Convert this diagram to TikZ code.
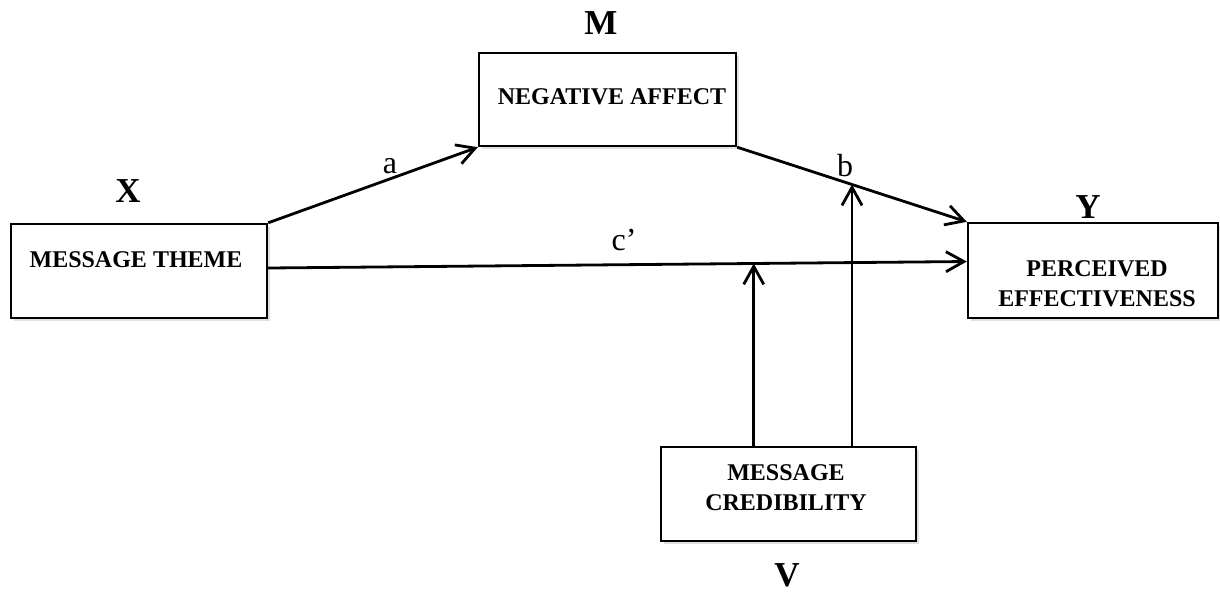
\documentclass[tikz,border=0pt]{standalone}
\usepackage{fontspec}
\setmainfont{Liberation Serif}
\usetikzlibrary{arrows.meta,calc,shadows}
\begin{document}
\begin{tikzpicture}[x=0.5pt,y=-0.5pt,
  box/.style={draw=black,line width=1.2pt,fill=white,inner sep=0pt,
    drop shadow={shadow xshift=1.5pt,shadow yshift=-1.5pt,fill=black,opacity=0.12}},
  boxtext/.style={font=\fontsize{12}{15}\selectfont\bfseries,align=center,inner sep=0pt},
  varlabel/.style={font=\fontsize{17.5}{20}\selectfont\bfseries,inner sep=0pt},
  pathlabel/.style={font=\fontsize{16}{18}\selectfont,inner sep=0pt},
  arr/.style={line width=1.4pt,-{Straight Barb[length=9pt,width=10pt,line width=1.4pt]}}
]
\useasboundingbox (0,0) rectangle (1220,591);
% boxes
\node[box,minimum width=128.5pt,minimum height=46.5pt] (na) at (607.5,99.5) {};
\node[box,minimum width=128pt,minimum height=47pt] (mt) at (139,271) {};
\node[box,minimum width=125pt,minimum height=47.5pt] (pe) at (1093,270.5) {};
\node[box,minimum width=127.5pt,minimum height=47pt] (mc) at (788.5,494) {};
% box texts
\node[boxtext] (nat) at (612,97) {NEGATIVE AFFECT};
\node[boxtext] (mtt) at (136,260) {MESSAGE THEME};
\node[boxtext] (pet) at (1097,284) {PERCEIVED\\EFFECTIVENESS};
\node[boxtext] (mct) at (786,488) {MESSAGE\\CREDIBILITY};
% variable labels
\node[varlabel] (lm) at (601,23) {M};
\node[varlabel] (lx) at (128,191) {X};
\node[varlabel] (ly) at (1088,207) {Y};
\node[varlabel] (lv) at (787,575) {V};
% connectors
\coordinate (cs) at ([yshift=1.5pt]mt.east);
\coordinate (ce) at ([yshift=4.5pt]pe.west);
\coordinate (cm) at ($(cs)!0.695!(ce)$);
\coordinate (bm) at ($(na.south east)!0.5!(pe.north west)$);
\draw[arr] (mt.north east) -- (na.south west);
\draw[arr] (na.south east) -- (pe.north west);
\draw[arr] (cs) -- (ce);
\draw[arr] (cm |- mc.north) -- (cm);
\draw[arr] (bm |- mc.north) -- (bm);
% path labels
\node[pathlabel] (la) at (390,166) {a};
\node[pathlabel] (lb) at (845,166) {b};
\node[pathlabel] (lc) at (624,240) {c’};
\end{tikzpicture}
\end{document}
